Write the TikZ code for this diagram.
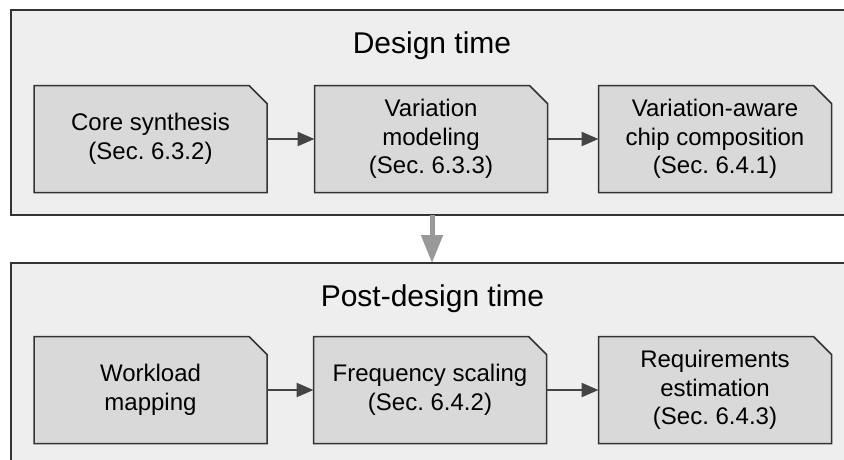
\documentclass[tikz,border=0pt]{standalone}
\usepackage{fontspec}
\setmainfont{Liberation Sans}
\usetikzlibrary{arrows.meta}
\frenchspacing

\definecolor{panelfill}{HTML}{EEEEEE}
\definecolor{stagefill}{HTML}{D9D9D9}
\definecolor{edgecol}{HTML}{333333}
\definecolor{flowcol}{HTML}{444444}
\definecolor{phasecol}{HTML}{999999}

% A process stage: grey box with its top right corner cut off, then the label node on top
\newcommand\stagebox[3]{%
  \filldraw[stageoutline] (#2) ++(-116.5,53.5) -- ++(0,-107) -- ++(215,0) -- ++(18,18) -- ++(0,89) -- cycle;
  \node[stagetext] (#1) at (#2) {#3};
}

\begin{document}
\begin{tikzpicture}[x=1pt,y=-1pt,
  panel/.style={draw=edgecol, fill=panelfill, line width=1.5pt, inner sep=0pt, outer sep=0pt},
  stageoutline/.style={draw=edgecol, fill=stagefill, line width=1.5pt, line join=miter},
  stagetext/.style={minimum width=233pt, minimum height=107pt, inner sep=0pt, outer sep=0pt,
    align=center, font=\fontsize{24}{28.5}\selectfont},
  title/.style={anchor=base, font=\fontsize{30}{36}\selectfont},
  flow/.style={draw=flowcol, line width=2.5pt, -{Triangle[length=17pt,width=14pt]}},
  phase/.style={draw=phasecol, line width=5pt, -{Triangle[length=28pt,width=21pt]}}]

\fill[white] (0,0) rectangle (844,459);
\useasboundingbox (0,0) rectangle (844,459);
\clip (0,0) rectangle (844,459);

% the two phase panels (they run off the right and bottom edges)
\node[panel, minimum width=842pt, minimum height=205pt] (design) at (432,112.5) {};
\node[panel, minimum width=842pt, minimum height=207pt] (post) at (432,366.5) {};

\node[title] (designtitle) at (432,53) {Design time};
\node[title] (posttitle) at (432.5,306) {Post-design time};

% design-time stages
\stagebox{core}{150.5,139}{Core synthesis\\(Sec. 6.3.2)}
\stagebox{varmod}{431,139}{Variation\\modeling\\(Sec. 6.3.3)}
\stagebox{chip}{715,139}{Variation-aware\\chip composition\\(Sec. 6.4.1)}

% post-design-time stages
\stagebox{workload}{150.5,390}{Workload\\mapping}
\stagebox{freq}{430,390}{Frequency scaling\\(Sec. 6.4.2)}
\stagebox{req}{715,390}{Requirements\\estimation\\(Sec. 6.4.3)}

\draw[flow] (core) -- (varmod);
\draw[flow] (varmod) -- (chip);
\draw[flow] (workload) -- (freq);
\draw[flow] (freq) -- (req);

\draw[phase] (design) -- (post);
\end{tikzpicture}
\end{document}
